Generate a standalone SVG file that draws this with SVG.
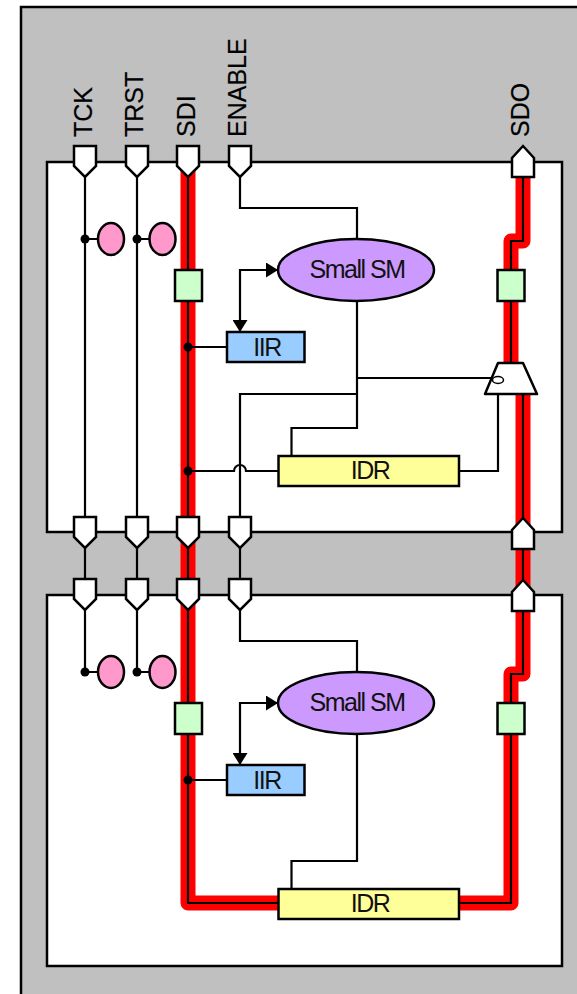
<svg xmlns="http://www.w3.org/2000/svg" width="577" height="994" viewBox="0 0 577 994">
<defs>
<style>
text{font-family:"Liberation Sans",Arial,sans-serif;fill:#000}
.lbl{font-size:25px;stroke:#000;stroke-width:.2}
.t{font-size:25px;text-anchor:middle;letter-spacing:-1.5px;fill:#111}
.box{stroke:#000;stroke-width:2.5}
.wire{fill:none;stroke:#000;stroke-width:2.200}
.red{fill:none;stroke:#f00;stroke-width:15;stroke-linejoin:round}
.pin{fill:#fff;stroke:#000;stroke-width:2.5;stroke-linejoin:miter}
.dot{fill:#000}
.g{fill:#cfc}.b{fill:#9cf}.y{fill:#ff9}.p{fill:#c9f}.k{fill:#f9c}
</style>
<path id="pd" class="pin" d="M-11 0H11V20L0 31L-11 20Z"/>
<path id="pu" class="pin" d="M-11 31H11V12L0 0L-11 12Z"/>
<marker id="ah" markerUnits="userSpaceOnUse" markerWidth="13" markerHeight="15" refX="12" refY="7.500" orient="auto-start-reverse"><path d="M0 0L12 7.500L0 15Z" fill="#000"/></marker>
</defs>
<rect id="background" x="21" y="7" width="570" height="1000" fill="#c0c0c0" stroke="#000" stroke-width="2.5"/>
<rect id="panel-top" x="47" y="162" width="515" height="370" fill="#fff" stroke="#000" stroke-width="2.5"/>
<rect id="panel-bottom" x="47" y="595" width="515" height="371" fill="#fff" stroke="#000" stroke-width="2.5"/>
<g id="connectors">
<path class="red" d="M188 165V903H279"/>
<path class="red" d="M459 903H511V674H523V394M511 380V241H523V165"/>
<path class="wire" d="M188 170V270M188 301V517M188 548V579M188 610V703M188 734V903H279"/>
<path class="wire" d="M459 903H511V734M511 703V674H523V610M523 579V548M523 517V394M511 363V301M511 270V241H523V177"/>
<path class="wire" d="M85 177V517M85 548V579M85 610V672M137 177V517M137 548V579M137 610V672"/>
<path class="wire" d="M85 239H98M137 239H150M85 672H98M137 672H150"/>
<path class="wire" d="M240 177V208H357V239M240 610V641H357V672M240 548V579"/>
<path class="wire" d="M357 301V428H291.5V456M357 378H492M357 394H240V517M357 734V861H291.5V889"/>
<path class="wire" d="M188 347H227M188 780H227"/>
<path class="wire" d="M188 471H234A6 6 0 0 1 246 471H279M459 471H498V394"/>
<path class="wire" marker-start="url(#ah)" marker-end="url(#ah)" d="M278 270H240V332"/>
<path class="wire" marker-start="url(#ah)" marker-end="url(#ah)" d="M278 703H240V765"/>
<circle class="dot" cx="85" cy="239" r="4.500"/><circle class="dot" cx="137" cy="239" r="4.500"/>
<circle class="dot" cx="85" cy="672" r="4.500"/><circle class="dot" cx="137" cy="672" r="4.500"/>
<circle class="dot" cx="188" cy="347" r="4.500"/><circle class="dot" cx="188" cy="471" r="4.500"/>
<circle class="dot" cx="188" cy="780" r="4.500"/>
</g>
<g id="pin-tck"><use href="#pd" x="85" y="146"/><text class="lbl" transform="translate(92 137) rotate(-90)">TCK</text></g>
<g id="pin-trst"><use href="#pd" x="137" y="146"/><text class="lbl" transform="translate(143 137) rotate(-90)">TRST</text></g>
<g id="pin-sdi"><use href="#pd" x="188" y="146"/><text class="lbl" transform="translate(195 137) rotate(-90)">SDI</text></g>
<g id="pin-enable"><use href="#pd" x="240" y="146"/><text class="lbl" transform="translate(246 137) rotate(-90)">ENABLE</text></g>
<g id="pin-sdo"><use href="#pu" x="523" y="146"/><text class="lbl" transform="translate(529 137) rotate(-90)">SDO</text></g>
<g id="pins-top-out"><use href="#pd" x="85" y="517"/><use href="#pd" x="137" y="517"/><use href="#pd" x="188" y="517"/><use href="#pd" x="240" y="517"/><use href="#pu" x="523" y="518"/></g>
<g id="pins-bottom-in"><use href="#pd" x="85" y="579"/><use href="#pd" x="137" y="579"/><use href="#pd" x="188" y="579"/><use href="#pd" x="240" y="579"/><use href="#pu" x="523" y="580"/></g>
<g id="tap1-top"><ellipse class="k box" cx="111" cy="239" rx="13" ry="16"/></g>
<g id="tap2-top"><ellipse class="k box" cx="162.5" cy="239" rx="13" ry="16"/></g>
<g id="tap1-bottom"><ellipse class="k box" cx="111" cy="672" rx="13" ry="16"/></g>
<g id="tap2-bottom"><ellipse class="k box" cx="162.5" cy="672" rx="13" ry="16"/></g>
<g id="sm-top"><ellipse class="p box" cx="356" cy="270" rx="78" ry="31"/><text class="t" x="357" y="278">Small SM</text></g>
<g id="sm-bottom"><ellipse class="p box" cx="356" cy="703" rx="78" ry="31"/><text class="t" x="357" y="711">Small SM</text></g>
<g id="green-l-top"><rect class="g box" x="175" y="270" width="27" height="31"/></g>
<g id="green-r-top"><rect class="g box" x="497.500" y="270" width="27" height="31"/></g>
<g id="green-l-bottom"><rect class="g box" x="175" y="703" width="27" height="31"/></g>
<g id="green-r-bottom"><rect class="g box" x="497.500" y="703" width="27" height="31"/></g>
<g id="iir-top"><rect class="b box" x="227" y="332" width="77.500" height="30"/><text class="t" x="267" y="356">IIR</text></g>
<g id="iir-bottom"><rect class="b box" x="227" y="765" width="77.500" height="30"/><text class="t" x="267" y="789">IIR</text></g>
<g id="idr-top"><rect class="y box" x="278.500" y="456" width="180.500" height="30"/><text class="t" x="370" y="479">IDR</text></g>
<g id="idr-bottom"><rect class="y box" x="278.500" y="889" width="180.500" height="30"/><text class="t" x="370" y="912">IDR</text></g>
<g id="mux"><path d="M498 363H523L537 394H485Z" fill="#fff" stroke="#000" stroke-width="2.500" stroke-linejoin="round"/><ellipse cx="498" cy="380" rx="5.500" ry="3.500" fill="#fff" stroke="#000" stroke-width="1.500"/></g>
</svg>
